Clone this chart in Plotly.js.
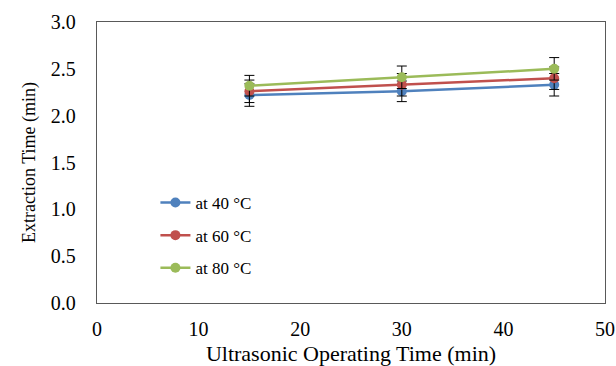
<!DOCTYPE html>
<html><head><meta charset="utf-8">
<script src="https://cdn.plot.ly/plotly-3.0.1.min.js"></script>
<style>html,body{margin:0;padding:0;background:#fff}#chart{width:616px;height:366px}</style>
</head><body><div id="chart"></div>
<script>
const xTime = [15, 30, 45];
const seriesNames = ["at 40 \u00B0C", "at 60 \u00B0C", "at 80 \u00B0C"];
const y40 = [2.22, 2.26, 2.33];
const y60 = [2.26, 2.33, 2.40];
const y80 = [2.32, 2.41, 2.50];
const err40 = [0.12, 0.11, 0.12];
const err60 = [0.12, 0.12, 0.12];
const err80 = [0.11, 0.12, 0.12];
const colors = ["#4F81BD", "#C0504D", "#9BBB59"];
const ys = [y40, y60, y80];
const errs = [err40, err60, err80];
const font = "Liberation Serif, Times New Roman, serif";
const traces = ys.map((y, i) => ({
  x: xTime, y: y, name: seriesNames[i], type: "scatter", mode: "lines+markers",
  legendgroup: "g" + i,
  line: {color: colors[i], width: 2.5},
  marker: {color: colors[i], size: 10},
  error_y: {type: "data", array: errs[i], visible: true, color: "#000", thickness: 1, width: 5}
}));
const layout = {
  width: 616, height: 366,
  margin: {l: 97, r: 11, t: 22, b: 63},
  paper_bgcolor: "#fff", plot_bgcolor: "#fff",
  font: {family: font, color: "#000", size: 20},
  showlegend: true,
  legend: {x: 0.115, y: 0.42, xanchor: "left", yanchor: "top", bgcolor: "rgba(0,0,0,0)",
    font: {family: font, size: 17}, traceorder: "grouped", tracegroupgap: 7.5},
  xaxis: {range: [0, 50], dtick: 10, tick0: 0, showgrid: false, zeroline: false,
    showline: true, mirror: true, linecolor: "#595959", linewidth: 1.3, ticks: "",
    ticklabelstandoff: 8,
    title: {text: "Ultrasonic Operating Time (min)", font: {size: 22}, standoff: 6}},
  yaxis: {range: [0, 3], dtick: 0.5, tick0: 0, tickformat: ".1f", showgrid: false, zeroline: false,
    showline: true, mirror: true, linecolor: "#595959", linewidth: 1.3, ticks: "",
    ticklabelstandoff: 16,
    title: {text: "Extraction Time (min)", font: {size: 18}, standoff: 10}}
};
Plotly.newPlot("chart", traces, layout, {displayModeBar: false, staticPlot: true});
</script></body></html>
